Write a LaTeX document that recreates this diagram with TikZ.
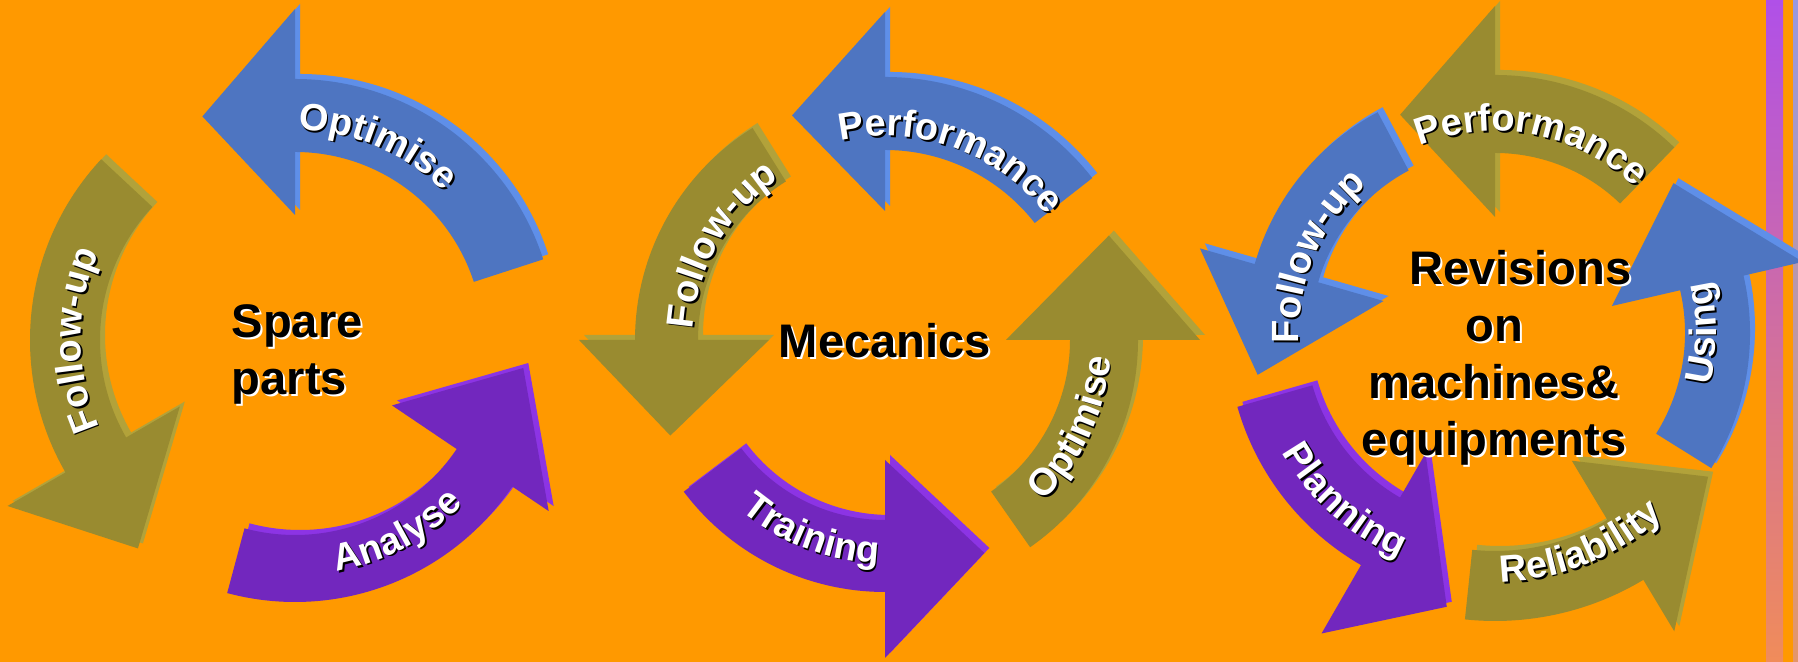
\documentclass[tikz,border=0pt]{standalone}
\usepackage{fontspec}
\setmainfont{Liberation Sans}
\usetikzlibrary{decorations.text}

\definecolor{bgorange}{RGB}{255,153,0}
\definecolor{arrowblue}{RGB}{78,117,193}
\definecolor{arrowblueside}{RGB}{95,143,232}
\definecolor{arrowolive}{RGB}{153,139,48}
\definecolor{arrowoliveside}{RGB}{178,162,58}
\definecolor{arrowpurple}{RGB}{114,39,190}
\definecolor{arrowpurpleside}{RGB}{140,52,228}
\definecolor{stripetop}{RGB}{176,80,232}
\definecolor{stripebottom}{RGB}{240,140,90}
\definecolor{stripetopb}{RGB}{152,152,224}
\definecolor{stripebottomb}{RGB}{228,150,106}

\newcommand\labelfont{\fontsize{10.8}{13}\selectfont\bfseries}
\newcommand\centrefont{\fontsize{13.4}{16.2}\selectfont\bfseries}

% curved arrow: centre, from, to, inner r, outer r, head inner r, head outer r, tip, colour
\newcommand\cyclearrow[9]{%
  \begin{scope}[shift={(#1)}]
    \fill[#9side, shift={(5,5)}] (#2:#5) arc[start angle=#2, end angle=#3, radius=#5]
      -- (#3:#7) -- (#8) -- (#3:#6) -- (#3:#4) arc[start angle=#3, end angle=#2, radius=#4] -- cycle;
    \fill[#9] (#2:#5) arc[start angle=#2, end angle=#3, radius=#5]
      -- (#3:#7) -- (#8) -- (#3:#6) -- (#3:#4) arc[start angle=#3, end angle=#2, radius=#4] -- cycle;
  \end{scope}}

% white label along the band: centre, from, to, radius, text
\newcommand\cyclelabel[5]{%
  \path[shift={(#1)}, shift={(1.8,-1.8)}, decorate,
    decoration={text along path, text align=center, text={|\labelfont\color{black}|#5}}]
    (#2:#4) arc[start angle=#2, end angle=#3, radius=#4];
  \path[shift={(#1)}, decorate,
    decoration={text along path, text align=center, text={|\labelfont\color{white}|#5}}]
    (#2:#4) arc[start angle=#2, end angle=#3, radius=#4];}

\begin{document}
\begin{tikzpicture}[x=0.01cm, y=0.01cm,
    centretext/.style={font=\centrefont, inner sep=0pt, text=black},
    centreshadow/.style={centretext, text=white}]
    \useasboundingbox (0,0) rectangle (1798,662);
    \clip (0,0) rectangle (1798,662);
    \fill[bgorange] (0,0) rectangle (1798,662);
    \shade[top color=stripetop, bottom color=stripebottom] (1766,0) rectangle (1783,662);
    \shade[top color=stripetopb, bottom color=stripebottomb] (1793,0) rectangle (1798,662);

    % spare parts
    \cyclearrow{295,322}{18}{90}{188}{261}{125}{331}{112.5:242}{arrowblue}
    \cyclearrow{295,322}{137}{210}{195}{265}{133}{332}{233:261}{arrowolive}
    \cyclearrow{295,322}{-105}{-34}{195}{262}{117}{306}{-7:230}{arrowpurple}
    \cyclelabel{295,322}{127}{7}{210}{Optimise}
    \cyclelabel{295,322}{240}{120}{214}{Follow-up}
    \cyclelabel{295,322}{-122}{-2}{235}{Analyse}

    % mecanics
    \cyclearrow{885,322}{38}{90}{190}{263}{129}{328}{112.5:243}{arrowblue}
    \cyclearrow{885,322}{122}{180}{187}{250}{116}{306}{204:235}{arrowolive}
    \cyclearrow{885,322}{217}{270}{180}{252}{120}{318}{295:235}{arrowpurple}
    \cyclearrow{885,322}{305}{360}{185}{253}{121}{315}{385:247}{arrowolive}
    \cyclelabel{885,322}{130}{10}{204}{Performance}
    \cyclelabel{885,322}{210}{90}{192}{Follow-up}
    \cyclelabel{885,322}{189}{309}{223}{Training}
    \cyclelabel{885,322}{-85}{35}{226}{Optimise}

    % revisions
    \cyclearrow{1495,329}{46}{90}{180}{258}{116}{327}{113.5:238}{arrowolive}
    \cyclearrow{1495,329}{118}{164}{184}{250}{116}{307}{190:241}{arrowblue}
    \cyclearrow{1495,329}{196}{240}{190}{268}{139}{347}{260:278}{arrowpurple}
    \cyclearrow{1495,329}{264}{301}{218}{288}{149}{348}{326:257}{arrowolive}
    \cyclearrow{1495,329}{328}{373}{190}{255}{120}{316}{400:233}{arrowblue}
    \cyclelabel{1495,329}{139}{19}{202}{Performance}
    \cyclelabel{1495,329}{217}{97}{196}{Follow-up}
    \cyclelabel{1495,329}{168}{288}{244}{Planning}
    \cyclelabel{1495,329}{-128}{-8}{249}{Reliability}
    \cyclelabel{1495,329}{-60}{60}{221}{Using}

    \node[centreshadow, anchor=north west, align=left] (spare shadow) at (233,356) {Spare\\parts};
    \node[centretext, anchor=north west, align=left] (spare) at (231,358) {Spare\\parts};
    \node[centreshadow, anchor=base] (mecanics shadow) at (887,302) {Mecanics};
    \node[centretext, anchor=base] (mecanics) at (885,304) {Mecanics};
    \node[centreshadow, anchor=north, align=center] (revisions shadow) at (1496,410)
        {\hspace*{1.12em}Revisions\\on\\machines\&\\equipments};
    \node[centretext, anchor=north, align=center] (revisions) at (1494,412)
        {\hspace*{1.12em}Revisions\\on\\machines\&\\equipments};
\end{tikzpicture}
\end{document}
